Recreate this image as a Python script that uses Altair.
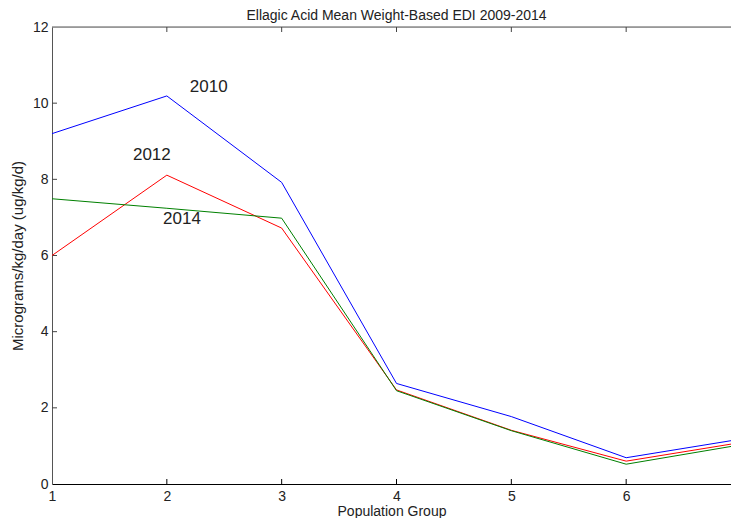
import altair as alt
import pandas as pd

groups = [1, 2, 3, 4, 5, 6, 7]
y2010 = [9.20, 10.19, 7.92, 2.64, 1.77, 0.69, 1.18]
y2012 = [6.00, 8.11, 6.72, 2.47, 1.41, 0.60, 1.09]
y2014 = [7.49, 7.24, 6.98, 2.45, 1.40, 0.52, 1.03]
series_names = ["2010", "2012", "2014"]
series_colors = ["#0000FF", "#FF0000", "#008000"]

label_text = ["2010", "2012", "2014"]
label_x = [2.20, 1.705, 1.967]
label_y = [10.43, 8.64, 6.96]

title_text = "Ellagic Acid Mean Weight-Based EDI 2009-2014"

x_ticks = [1, 2, 3, 4, 5, 6, 7]
y_ticks = [0, 2, 4, 6, 8, 10, 12]

W, H = 679, 457
FULL_W = 689  # width at which x=7 sits (just past the page edge)
FONT = "Liberation Sans"

rows = []
for name, vals in zip(series_names, [y2010, y2012, y2014]):
    for g, v in zip(groups, vals):
        rows.append({"group": g, "value": v, "series": name})
df = pd.DataFrame(rows)

xscale = alt.Scale(domain=[1, 1 + 6 * W / FULL_W], nice=False, zero=False)
yscale = alt.Scale(domain=[0, 12], nice=False)

lines = alt.Chart(df).mark_line(strokeWidth=1, clip=False).encode(
    x=alt.X("group:Q", scale=xscale,
            axis=alt.Axis(title="Population Group", values=x_ticks[:-1], format="d",
                          ticks=False, grid=False, labelPadding=5,
                          domainColor="#000", labelColor="#222", titleColor="#222",
                          labelFontSize=14, titleFontSize=14, titlePadding=1,
                          labelFont=FONT, titleFont=FONT, titleFontWeight="normal",
                          labelFlush=False)),
    y=alt.Y("value:Q", scale=yscale,
            axis=alt.Axis(title="Micrograms/kg/day (ug/kg/d)", values=y_ticks,
                          ticks=False, grid=False, labelPadding=4,
                          domainColor="#555", labelColor="#222", titleColor="#222",
                          labelFontSize=14, titleFontSize=15, titlePadding=7,
                          labelFont=FONT, titleFont=FONT, titleFontWeight="normal",
                          labelFlush=False)),
    color=alt.Color("series:N", scale=alt.Scale(domain=series_names, range=series_colors),
                    legend=None),
    order=alt.Order("series:N"),
)

labels_df = pd.DataFrame({"t": label_text, "x": label_x, "y": label_y})
labels = alt.Chart(labels_df).mark_text(
    align="left", baseline="middle", fontSize=17, font=FONT, color="#222"
).encode(x=alt.X("x:Q", scale=xscale), y=alt.Y("y:Q", scale=yscale), text="t:N")

title_mark = alt.Chart(pd.DataFrame({"t": [title_text]})).mark_text(
    align="center", baseline="alphabetic", fontSize=14, font=FONT, color="#222"
).encode(x=alt.value(FULL_W / 2), y=alt.value(-7), text="t:N")

xt = pd.DataFrame({"v": x_ticks[1:-1]})
yt = pd.DataFrame({"v": y_ticks[1:-1]})
tick_color = "#000"
bottom_ticks = alt.Chart(xt).mark_rule(color=tick_color, strokeWidth=1).encode(
    x=alt.X("v:Q", scale=xscale), y=alt.value(H), y2=alt.value(H - 5))
top_ticks = alt.Chart(xt).mark_rule(color="#444", strokeWidth=1).encode(
    x=alt.X("v:Q", scale=xscale), y=alt.value(0), y2=alt.value(5))
left_ticks = alt.Chart(yt).mark_rule(color="#444", strokeWidth=1).encode(
    y=alt.Y("v:Q", scale=yscale), x=alt.value(0), x2=alt.value(5))
top_border = alt.Chart(pd.DataFrame({"a": [0]})).mark_rule(color="#555", strokeWidth=1).encode(
    x=alt.value(0), x2=alt.value(W), y=alt.value(0))

chart = alt.layer(
    top_border, bottom_ticks, top_ticks, left_ticks, lines, labels, title_mark
).properties(
    width=W, height=H,
    autosize=alt.AutoSizeParams(type="none"),
    padding={"left": 44, "top": 19, "right": 0, "bottom": 34},
).configure_view(stroke=None).configure(background="white")

chart.save("out.html", embed_options={"renderer": "svg", "actions": False})
